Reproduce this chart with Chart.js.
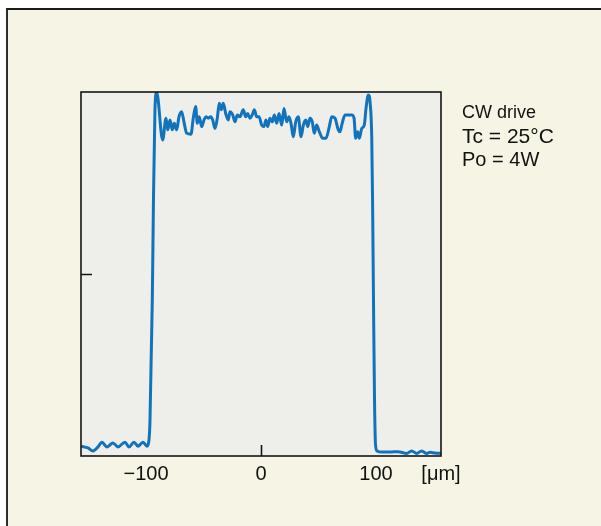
<!DOCTYPE html>
<html lang="en">
<head>
<meta charset="UTF-8">
<title>CW drive beam profile</title>
<style>
  html, body { margin: 0; padding: 0; background: #fff; }
  #panel {
    position: absolute; left: 6px; top: 8px; right: 0; bottom: 0;
    background: #f6f4e4;
    border-left: 2px solid #2e2e28;
    border-top: 2px solid #1c1c1c;
  }
  #wrap { position: absolute; left: 0; top: 0; width: 601px; height: 526px; }
</style>
</head>
<body>
<div id="panel"></div>
<div id="wrap"><canvas id="profile"></canvas></div>

<script src="https://cdn.jsdelivr.net/npm/chart.js@4.4.1/dist/chart.umd.min.js"></script>
<script>
// position across the emitter, in um
var positions = [
  -156.5, -150.4, -146.1, -141.7, -138.3, -133.9, -128.7, -124.3, -118.3, -114.8,
  -110.4, -107.0, -102.6, -99.1, -97.4, -96.5, -94.5, -93.5, -92.2, -90.7,
  -85.5, -82.6, -81.1, -79.1, -77.1, -75.4, -73.3, -71.3, -69.0, -67.0,
  -64.6, -60.9, -58.9, -56.8, -55.4, -53.7, -51.6, -49.6, -47.8, -45.8,
  -43.7, -42.0, -40.0, -38.0, -36.3, -34.5, -32.8, -30.7, -28.4, -27.0,
  -24.6, -22.6, -20.6, -18.3, -15.4, -13.3, -11.6, -9.6, -7.6, -5.8,
  -3.7, -1.7, 0.6, 2.6, 4.3, 5.8, 7.8, 9.8, 11.6, 13.7,
  15.7, 18.0, 20.0, 22.3, 24.3, 26.1, 28.1, 30.2, 32.4, 34.8,
  36.8, 38.9, 40.6, 42.6, 44.6, 46.3, 48.4, 50.7, 53.7, 56.5,
  59.4, 61.5, 64.3, 67.2, 68.7, 70.2, 73.0, 78.9, 80.9, 82.3,
  84.1, 85.5, 87.6, 89.8, 91.3, 93.3, 94.8, 96.3, 97.0, 97.8,
  98.7, 99.6, 100.9, 105.2, 112.2, 119.1, 126.7, 131.0, 135.4, 139.7,
  144.1, 147.0, 151.3, 157.1
];

// relative intensity
var intensity = [
  0.027, 0.022, 0.014, 0.025, 0.038, 0.025, 0.036, 0.025, 0.038, 0.025,
  0.038, 0.027, 0.038, 0.027, 0.044, 0.099, 0.429, 0.703, 0.951, 0.999,
  0.868, 0.928, 0.896, 0.923, 0.896, 0.914, 0.896, 0.932, 0.946, 0.918,
  0.887, 0.884, 0.928, 0.960, 0.914, 0.932, 0.905, 0.923, 0.932, 0.928,
  0.932, 0.923, 0.900, 0.928, 0.969, 0.951, 0.969, 0.941, 0.923, 0.946,
  0.937, 0.918, 0.937, 0.932, 0.951, 0.932, 0.941, 0.928, 0.937, 0.951,
  0.932, 0.932, 0.909, 0.905, 0.923, 0.905, 0.928, 0.918, 0.937, 0.914,
  0.941, 0.909, 0.955, 0.918, 0.932, 0.914, 0.877, 0.918, 0.932, 0.877,
  0.909, 0.923, 0.905, 0.928, 0.918, 0.887, 0.909, 0.891, 0.873, 0.873,
  0.905, 0.932, 0.928, 0.896, 0.891, 0.909, 0.937, 0.937, 0.928, 0.873,
  0.891, 0.873, 0.900, 0.909, 0.955, 0.992, 0.973, 0.873, 0.703, 0.429,
  0.154, 0.030, 0.014, 0.011, 0.011, 0.012, 0.007, 0.014, 0.007, 0.014,
  0.007, 0.010, 0.008, 0.007
];

var X_MIN = -156.5, X_MAX = 156.5;
var xTicks = [-100, 0, 100, X_MAX];
var xUnit = '[\u03bcm]';
var notes = [
  { text: 'CW drive', size: 18, y: 118 },
  { text: 'Tc = 25\u00b0C', size: 21, y: 143 },
  { text: 'Po = 4W', size: 20, y: 166 }
];

var FONT = '"Liberation Sans", Arial, Helvetica, sans-serif';

var points = positions.map(function (x, i) { return { x: x, y: intensity[i] }; });

// plot background, frame, inward tick marks and the side notes
var plotFrame = {
  id: 'plotFrame',
  beforeDraw: function (chart) {
    var a = chart.chartArea, ctx = chart.ctx;
    ctx.save();
    ctx.fillStyle = '#eeeeea';
    ctx.fillRect(a.left, a.top, a.right - a.left, a.bottom - a.top);
    ctx.restore();
  },
  afterDraw: function (chart) {
    var a = chart.chartArea, ctx = chart.ctx;
    var xs = chart.scales.x, ys = chart.scales.y;
    ctx.save();
    ctx.strokeStyle = '#151515';
    ctx.lineWidth = 1.6;
    ctx.strokeRect(a.left, a.top, a.right - a.left, a.bottom - a.top);

    ctx.beginPath();
    var tx = Math.round(xs.getPixelForValue(0)) + 0.5;
    ctx.moveTo(tx, a.bottom);
    ctx.lineTo(tx, a.bottom - 11);
    var ty = Math.round(ys.getPixelForValue(0.5)) + 0.5;
    ctx.moveTo(a.left, ty);
    ctx.lineTo(a.left + 11, ty);
    ctx.stroke();

    ctx.fillStyle = '#111';
    ctx.textBaseline = 'alphabetic';
    ctx.textAlign = 'left';
    notes.forEach(function (n) {
      ctx.font = n.size + 'px ' + FONT;
      ctx.fillText(n.text, a.right + 21, n.y);
    });
    ctx.restore();
  }
};

new Chart(document.getElementById('profile'), {
  type: 'line',
  data: {
    datasets: [{
      data: points,
      borderColor: '#1273bd',
      borderWidth: 3,
      pointRadius: 0,
      fill: false,
      cubicInterpolationMode: 'monotone'
    }]
  },
  options: {
    responsive: true,
    maintainAspectRatio: false,
    animation: false,
    layout: { padding: { left: 81, top: 92, right: 160, bottom: 34 } },
    plugins: { legend: { display: false }, tooltip: { enabled: false } },
    scales: {
      x: {
        type: 'linear',
        min: X_MIN,
        max: X_MAX,
        grid: { display: false, drawTicks: false },
        border: { display: false },
        afterBuildTicks: function (scale) {
          scale.ticks = xTicks.map(function (v) { return { value: v }; });
        },
        ticks: {
          autoSkip: false,
          maxRotation: 0,
          padding: 6,
          color: '#111',
          font: { family: FONT, size: 20 },
          callback: function (v) {
            if (v === X_MAX) return xUnit;
            return v < 0 ? '\u2212' + Math.abs(v) : String(v);
          }
        }
      },
      y: {
        display: false,
        min: 0,
        max: 1
      }
    }
  },
  plugins: [plotFrame]
});
</script>
</body>
</html>
